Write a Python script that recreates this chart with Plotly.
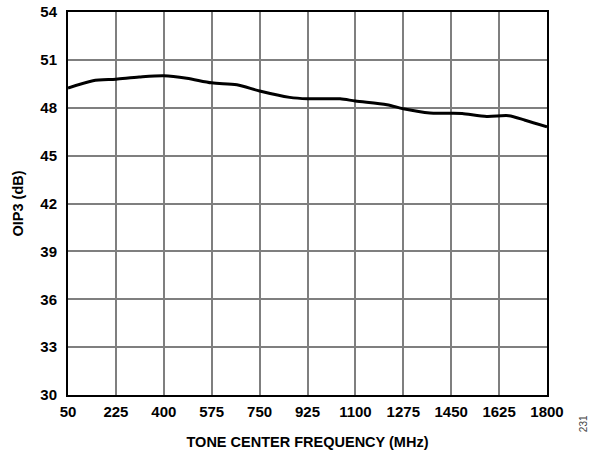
import plotly.graph_objects as go

freq_mhz = [50, 141, 225, 310, 400, 484, 575, 667, 750, 860, 925, 1044, 1100, 1215, 1275, 1372, 1450, 1490, 1580, 1660, 1720, 1800]
oip3_db = [49.23, 49.69, 49.79, 49.92, 50.0, 49.85, 49.56, 49.44, 49.05, 48.65, 48.56, 48.56, 48.42, 48.19, 47.94, 47.67, 47.66, 47.64, 47.45, 47.5, 47.22, 46.8]

x_ticks = [50, 225, 400, 575, 750, 925, 1100, 1275, 1450, 1625, 1800]
y_ticks = [30, 33, 36, 39, 42, 45, 48, 51, 54]

fig = go.Figure()
fig.add_trace(go.Scatter(x=freq_mhz, y=oip3_db, mode="lines",
                         line=dict(color="black", width=3, shape="spline", smoothing=0.8),
                         showlegend=False, hoverinfo="skip"))

font_family = "Liberation Sans, Arial, sans-serif"
axis_common = dict(showgrid=True, gridcolor="#7f7f7f", gridwidth=1.5,
                   showline=True, linecolor="black", linewidth=2, mirror=True,
                   zeroline=False, ticks="", automargin=False,
                   tickfont=dict(family=font_family, size=15, color="black", weight="bold"))

fig.update_xaxes(range=[50, 1800], tickvals=x_ticks, ticktext=[str(v) for v in x_ticks],
                 ticklabelstandoff=2,
                 title=dict(text="TONE CENTER FREQUENCY (MHz)",
                            font=dict(family=font_family, size=14.5, color="black", weight="bold"),
                            standoff=18),
                 **axis_common)
fig.update_yaxes(range=[30, 54], tickvals=y_ticks, ticktext=[str(v) for v in y_ticks],
                 ticklabelstandoff=6,
                 title=dict(text="OIP3 (dB)",
                            font=dict(family=font_family, size=14.5, color="black", weight="bold"),
                            standoff=13),
                 **axis_common)

fig.add_annotation(text="231", xref="paper", yref="paper", x=1.092, y=-0.102,
                   showarrow=False, textangle=-90,
                   font=dict(family=font_family, size=10, color="#444444"))

fig.update_layout(width=595, height=454, margin=dict(l=68, r=48, t=12, b=59),
                  plot_bgcolor="white", paper_bgcolor="white")

fig.write_html("out.html", config={"displayModeBar": False},
               post_script="document.body.style.margin='0';")
